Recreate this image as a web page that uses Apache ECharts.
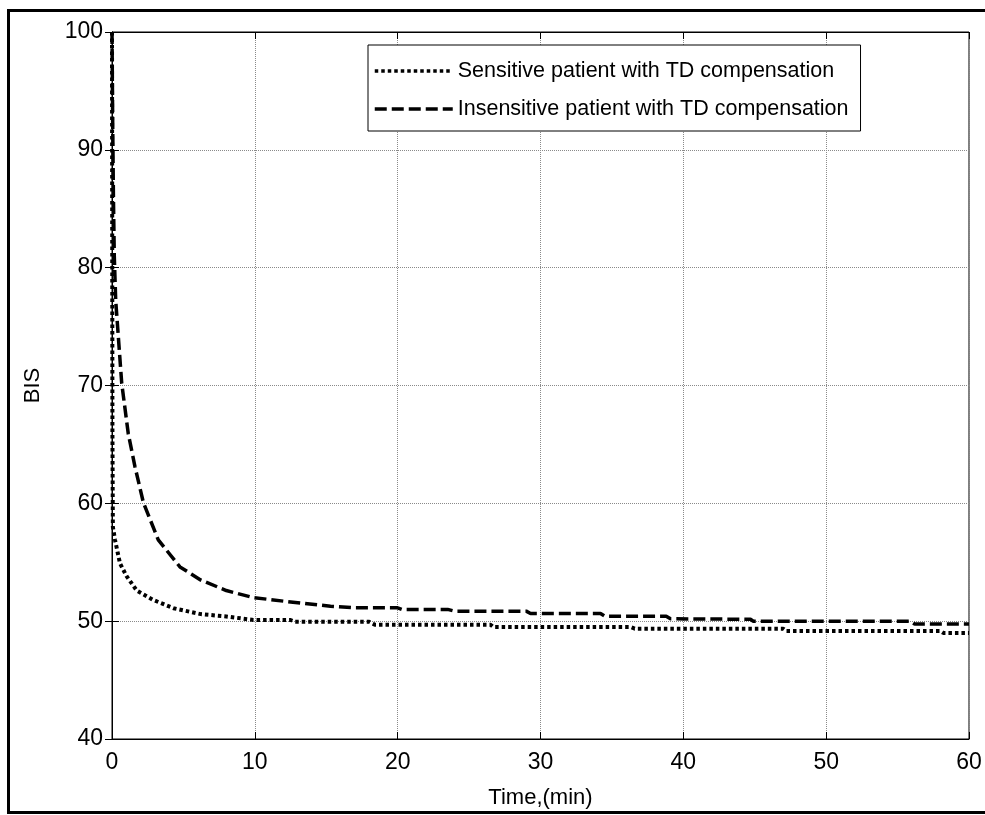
<!DOCTYPE html>
<html>
<head>
<meta charset="utf-8">
<script src="https://cdn.jsdelivr.net/npm/echarts@6/dist/echarts.min.js"></script>
<style>
  html, body { margin: 0; padding: 0; background: #fff; }
  #chart { width: 985px; height: 815px; }
</style>
</head>
<body>
<div id="chart"></div>
<script>
// time (min) and BIS
const timeSensitive = [0, 0.03, 0.06, 0.21, 0.56, 1.03, 1.73, 2.89, 4.3, 6.2, 8.0, 9.9, 12.5, 12.8, 18.0, 18.4, 26.5, 26.7, 36.3, 36.6, 47.0, 47.2, 58.0, 58.2, 60];
const bisSensitive = [100, 66, 58, 56.9, 54.9, 53.8, 52.6, 51.8, 51.1, 50.6, 50.4, 50.1, 50.1, 49.95, 49.95, 49.7, 49.7, 49.5, 49.5, 49.36, 49.36, 49.16, 49.16, 49.0, 49.0];

const timeInsensitive = [0, 0.05, 0.1, 0.16, 0.26, 0.68, 1.14, 1.61, 2.2, 3.24, 4.76, 6.2, 8.0, 9.9, 12.0, 13.5, 15.3, 17.0, 20.0, 20.3, 23.5, 24.0, 29.0, 29.3, 34.2, 34.5, 38.8, 39.1, 44.7, 44.9, 55.9, 56.2, 60];
const bisInsensitive = [100, 92, 86, 81, 77.2, 70.2, 65.9, 63.1, 60.05, 56.9, 54.6, 53.5, 52.6, 52.0, 51.7, 51.5, 51.27, 51.13, 51.13, 51.0, 51.0, 50.85, 50.85, 50.65, 50.65, 50.42, 50.42, 50.2, 50.16, 50.0, 50.0, 49.75, 49.75];

const seriesNames = ['Sensitive patient with TD compensation', 'Insensitive patient with TD compensation'];

const FONT = '"Liberation Sans", Arial, sans-serif';

const zip = (xs, ys) => xs.map((x, i) => [x, ys[i]]);

const chart = echarts.init(document.getElementById('chart'), null, { renderer: 'canvas' });

const gridLine = { show: true, lineStyle: { color: '#8a8a8a', width: 1, type: [1, 1] } };
const tick = { show: true, inside: true, length: 7, lineStyle: { color: '#000', width: 1 } };
const label = { color: '#000', fontSize: 23, fontFamily: FONT };

chart.setOption({
  animation: false,
  backgroundColor: '#fff',
  grid: {
    left: 112, right: 16, top: 32, bottom: 76,
    show: true, borderColor: '#000', borderWidth: 1
  },
  legend: {
    left: 368, top: 45,
    orient: 'vertical',
    backgroundColor: '#fff',
    borderColor: '#000', borderWidth: 1, borderRadius: 0,
    padding: [13, 12, 9, 5],
    itemGap: 12,
    itemWidth: 78, itemHeight: 20,
    // line sample only, no marker dot
    itemStyle: { opacity: 0 },
    lineStyle: { width: 3.5 },
    textStyle: { color: '#000', fontSize: 21.5, fontFamily: FONT, lineHeight: 26 },
    data: seriesNames
  },
  xAxis: [
    {
      type: 'value', min: 0, max: 60, interval: 10, position: 'bottom',
      name: 'Time,(min)', nameLocation: 'middle', nameGap: 48,
      nameTextStyle: { color: '#000', fontSize: 22, fontFamily: FONT },
      axisLine: { show: true, lineStyle: { color: '#000', width: 1 } },
      axisTick: tick,
      axisLabel: Object.assign({ margin: 12 }, label),
      splitLine: gridLine
    },
    {
      type: 'value', min: 0, max: 60, interval: 10, position: 'top',
      axisLine: { show: true, lineStyle: { color: '#000', width: 1 } },
      axisTick: tick, axisLabel: { show: false }, splitLine: { show: false }
    }
  ],
  yAxis: [
    {
      type: 'value', min: 40, max: 100, interval: 10, position: 'left',
      name: 'BIS', nameLocation: 'middle', nameGap: 68,
      nameTextStyle: { color: '#000', fontSize: 22, fontFamily: FONT },
      axisLine: { show: true, lineStyle: { color: '#000', width: 1 } },
      axisTick: tick,
      axisLabel: Object.assign({ margin: 9 }, label),
      splitLine: gridLine
    },
    {
      type: 'value', min: 40, max: 100, interval: 10, position: 'right',
      axisLine: { show: true, lineStyle: { color: '#000', width: 1 } },
      axisTick: tick, axisLabel: { show: false }, splitLine: { show: false }
    }
  ],
  series: [
    {
      name: seriesNames[0], type: 'line', symbol: 'none', clip: false,
      data: zip(timeSensitive, bisSensitive),
      lineStyle: { color: '#000', width: 4, type: [3.5, 3] },
      itemStyle: { color: '#000' }
    },
    {
      name: seriesNames[1], type: 'line', symbol: 'none', clip: false,
      data: zip(timeInsensitive, bisInsensitive),
      lineStyle: { color: '#000', width: 3.5, type: [12, 5] },
      itemStyle: { color: '#000' }
    }
  ],
  graphic: [
    { type: 'line', shape: { x1: 8.5, y1: 10.5, x2: 990, y2: 10.5 }, style: { stroke: '#000', lineWidth: 3 }, silent: true },
    { type: 'line', shape: { x1: 8.5, y1: 9, x2: 8.5, y2: 813.5 }, style: { stroke: '#000', lineWidth: 3 }, silent: true },
    { type: 'line', shape: { x1: 7, y1: 812.5, x2: 990, y2: 812.5 }, style: { stroke: '#000', lineWidth: 3 }, silent: true }
  ]
});
</script>
</body>
</html>
